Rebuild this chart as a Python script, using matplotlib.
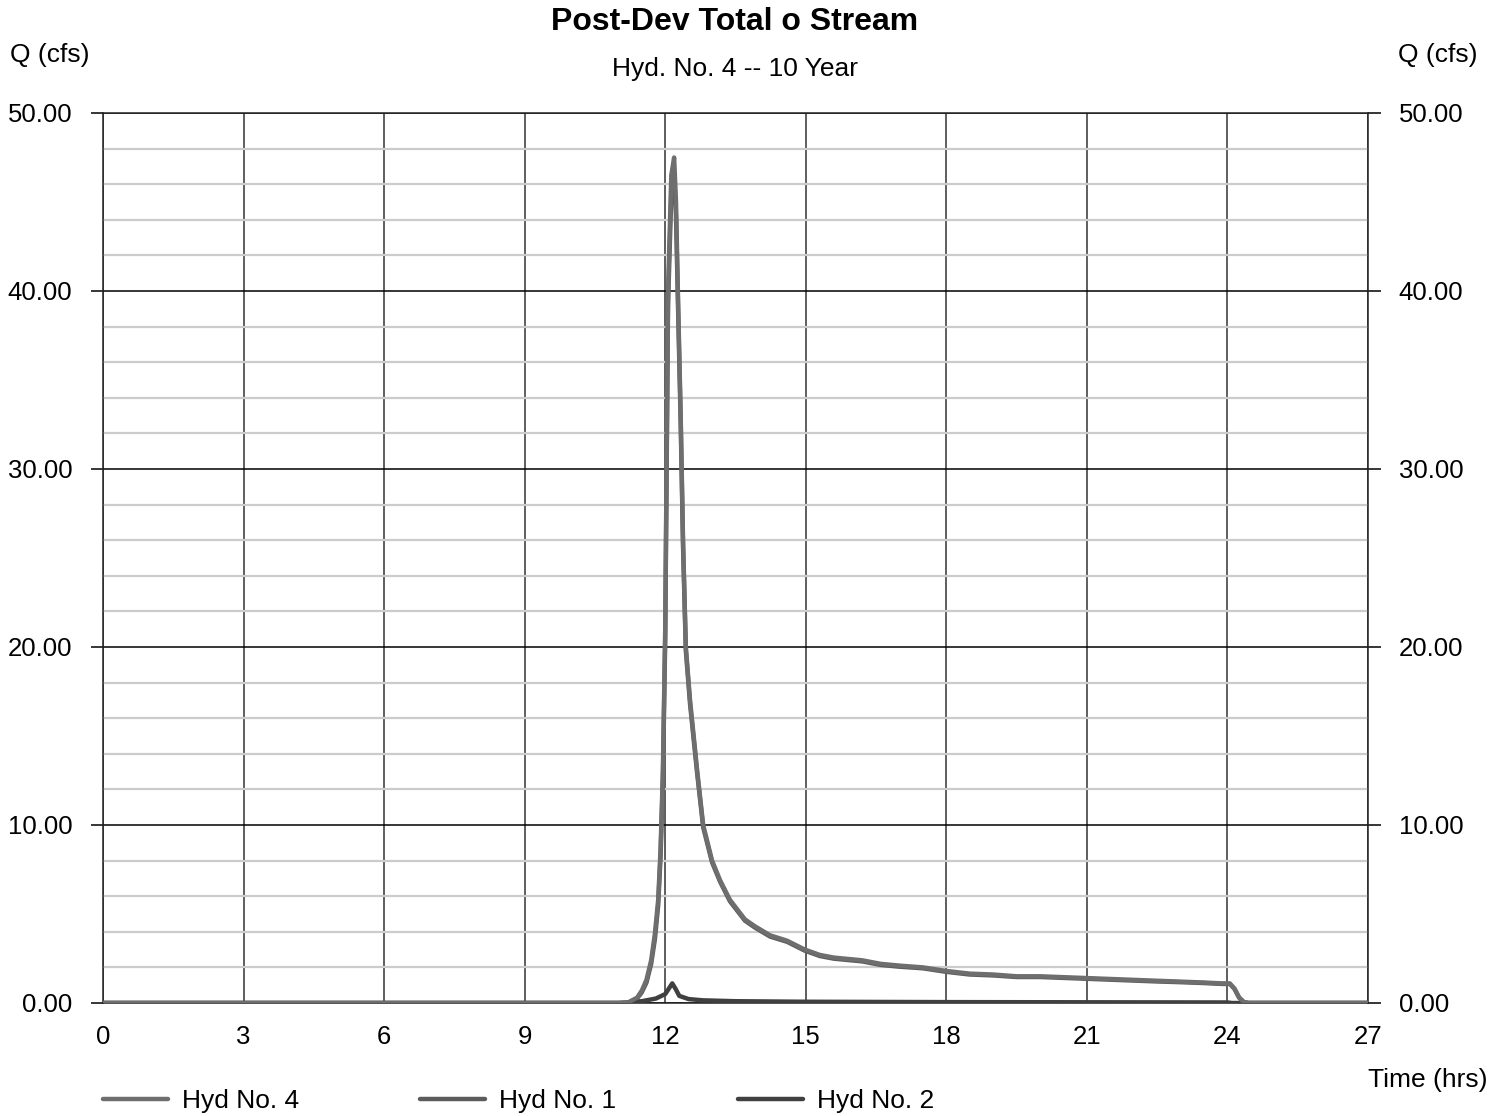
import matplotlib
matplotlib.use("Agg")
import matplotlib.pyplot as plt
from matplotlib.ticker import MultipleLocator, FormatStrFormatter

plt.rcParams['font.family'] = ['Liberation Sans', 'DejaVu Sans']

# hydrograph ordinates (hours, cfs)
hyd4_t = [0.0, 11.0, 11.2, 11.4, 11.5, 11.6, 11.7, 11.78, 11.85, 11.9, 11.95, 12.0, 12.06,
          12.13, 12.19, 12.23, 12.27, 12.33, 12.38, 12.44, 12.53, 12.68, 12.81, 13.0, 13.17,
          13.38, 13.7, 13.92, 14.24, 14.6, 14.98, 15.3, 15.6, 16.2, 16.6, 17.0, 17.5, 18.0,
          18.5, 19.0, 19.5, 20.0, 20.5, 21.0, 21.5, 22.0, 22.5, 23.0, 23.5, 23.9, 24.05,
          24.15, 24.25, 24.35, 24.45, 27.0]
hyd4_q = [0.0, 0.0, 0.02, 0.3, 0.7, 1.3, 2.4, 3.9, 5.8, 8.6, 13.0, 21.0, 40.0,
          46.5, 47.5, 45.0, 40.0, 33.0, 26.0, 20.0, 17.0, 13.1, 10.0, 8.0, 6.9,
          5.8, 4.7, 4.3, 3.8, 3.5, 3.0, 2.7, 2.55, 2.4, 2.2, 2.1, 2.0, 1.8,
          1.65, 1.6, 1.5, 1.5, 1.45, 1.4, 1.35, 1.3, 1.25, 1.2, 1.15, 1.1, 1.1,
          0.8, 0.3, 0.05, 0.0, 0.0]

hyd1_t = [0.0, 11.0, 11.2, 11.4, 11.5, 11.6, 11.7, 11.78, 11.85, 11.9, 11.95, 12.0, 12.06,
          12.13, 12.19, 12.23, 12.27, 12.33, 12.38, 12.44, 12.53, 12.68, 12.81, 13.0, 13.17,
          13.38, 13.7, 13.92, 14.24, 14.6, 14.98, 15.3, 15.6, 16.2, 16.6, 17.0, 17.5, 18.0,
          18.5, 19.0, 19.5, 20.0, 20.5, 21.0, 21.5, 22.0, 22.5, 23.0, 23.5, 23.9, 24.05,
          24.15, 24.25, 24.35, 24.45, 27.0]
hyd1_q = [0.0, 0.0, 0.0, 0.25, 0.6, 1.15, 2.2, 3.6, 5.5, 8.2, 12.5, 20.5, 39.2,
          45.5, 46.6, 44.2, 39.5, 32.6, 25.7, 19.8, 16.8, 12.95, 9.87, 7.9, 6.82,
          5.72, 4.63, 4.23, 3.73, 3.44, 2.94, 2.64, 2.49, 2.34, 2.14, 2.04, 1.95, 1.75,
          1.6, 1.55, 1.46, 1.46, 1.41, 1.36, 1.31, 1.26, 1.21, 1.17, 1.12, 1.07, 1.07,
          0.8, 0.3, 0.05, 0.0, 0.0]

hyd2_t = [0.0, 11.0, 11.2, 11.5, 11.8, 12.0, 12.1, 12.15, 12.22, 12.3, 12.5, 12.8,
          13.5, 15.0, 18.0, 21.0, 24.0, 24.1, 27.0]
hyd2_q = [0.0, 0.0, 0.03, 0.1, 0.25, 0.5, 0.9, 1.1, 0.8, 0.4, 0.22, 0.15,
          0.1, 0.07, 0.05, 0.04, 0.03, 0.0, 0.0]

x_ticks = [0, 3, 6, 9, 12, 15, 18, 21, 24, 27]
y_max = 50

fig = plt.figure(figsize=(15.07, 11.16), dpi=100)
ax = fig.add_axes([103 / 1507, 1 - 1003 / 1116, 1265 / 1507, 890 / 1116])

ax.plot(hyd1_t, hyd1_q, color='#5c5c5c', lw=3.2, solid_capstyle='round', label='Hyd No. 1', zorder=3)
ax.plot(hyd2_t, hyd2_q, color='#404040', lw=3.2, solid_capstyle='round', label='Hyd No. 2', zorder=4)
ax.plot(hyd4_t, hyd4_q, color='#6e6e6e', lw=3.2, solid_capstyle='round', label='Hyd No. 4', zorder=5)

ax.set_xlim(0, 27)
ax.set_ylim(0, y_max)
ax.set_xticks(x_ticks)
ax.yaxis.set_major_locator(MultipleLocator(10))
ax.yaxis.set_minor_locator(MultipleLocator(2))
ax.yaxis.set_major_formatter(FormatStrFormatter('%.2f'))

ax.grid(which='major', axis='y', color='black', lw=1.1, zorder=1)
ax.grid(which='minor', axis='y', color='#cccccc', lw=1.6, zorder=0)
ax.grid(which='major', axis='x', color='#333333', lw=1.1, zorder=1)

ax.tick_params(axis='y', which='major', direction='out', length=9, width=1.1,
               pad=13, labelsize=18.5, left=True, right=True, labelleft=True, labelright=True)
ax.tick_params(axis='y', which='minor', length=0)
ax.tick_params(axis='x', length=0, pad=16, labelsize=18.5)

for side in ['left', 'right', 'top', 'bottom']:
    ax.spines[side].set_color('#222222')
    ax.spines[side].set_linewidth(1.1)

fig.text(735 / 1507, 1 - 22 / 1116, 'Post-Dev Total o Stream', ha='center', va='center',
         fontsize=23, fontweight='bold')
fig.text(735 / 1507, 1 - 69 / 1116, 'Hyd. No. 4 -- 10 Year', ha='center', va='center', fontsize=19)
fig.text(10 / 1507, 1 - 55 / 1116, 'Q (cfs)', ha='left', va='center', fontsize=19)
fig.text(1478 / 1507, 1 - 55 / 1116, 'Q (cfs)', ha='right', va='center', fontsize=19)
fig.text(1488 / 1507, 1 - 1080 / 1116, 'Time (hrs)', ha='right', va='center', fontsize=19)

handles, labels = ax.get_legend_handles_labels()
order = [2, 0, 1]
fig.legend([handles[i] for i in order], [labels[i] for i in order],
           loc='center left', bbox_to_anchor=(103 / 1507, 1 - 1101 / 1116), ncol=3,
           frameon=False, fontsize=19, handlelength=2.46, handletextpad=0.53,
           columnspacing=4.6, borderpad=0, borderaxespad=0)

fig.savefig('out.png', dpi=100)
